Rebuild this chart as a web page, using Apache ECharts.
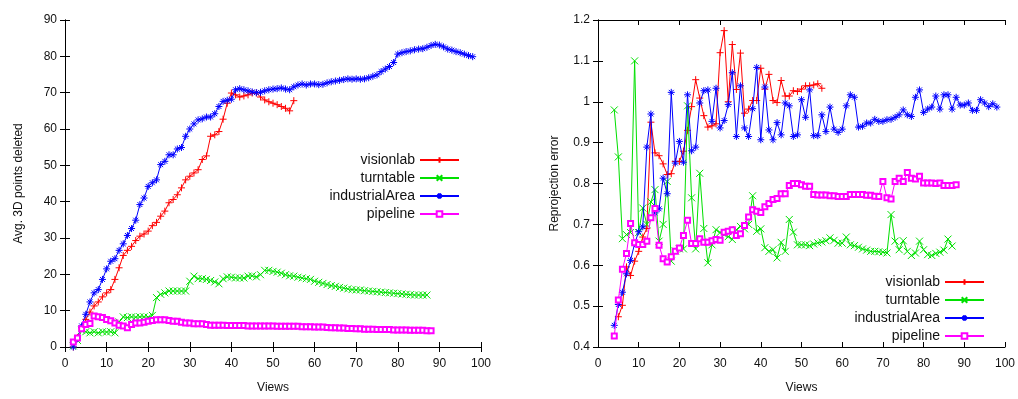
<!DOCTYPE html>
<html>
<head>
<meta charset="utf-8">
<script src="https://cdn.jsdelivr.net/npm/echarts@6/dist/echarts.min.js"></script>
<style>
  html, body { margin: 0; padding: 0; background: #fff; }
  #main { width: 1018px; height: 399px; }
</style>
</head>
<body>
<div id="main"></div>
<script>
// series names
const names = ['visionlab', 'turntable', 'industrialArea', 'pipeline'];

// left panel: avg. 3D points deleted, one value per view
const delVisionStart = 2;
const delVision = [0, 2.6, 5.3, 7.6, 9.6, 11.3, 12.4, 13.8, 14.9, 15.8, 18.6, 21.8, 25.2, 26.6, 27.7, 29.3, 30.5, 31.1, 31.9, 33.4,
  34.3, 36, 37.4, 39.7, 40.6, 41.9, 43.8, 46, 47, 47.9, 48.8, 51.6, 52.6, 58, 58.4, 59.3, 62.7, 67.1, 69.9, 69.4,
  68.8, 69.1, 69.4, 69.9, 69.9, 68.8, 68, 67.5, 67.1, 66.7, 66.2, 65.7, 65, 67.8];
const delTurnStart = 2;
const delTurn = [0.3, 1.8, 4.6, 4.2, 3.9, 4.2, 3.9, 4.2, 4.1, 4.2, 3.9, 6.9, 8.3, 8.1, 8.3, 8.2, 8.3, 8.3, 8.2, 8.7,
  13.6, 14.5, 14.9, 15.4, 15.4, 15.4, 15.4, 15.4, 18.1, 19.5, 18.8, 18.8, 18.6, 18.3, 17.9, 17.4, 18.8, 19.3, 19.2, 19,
  19, 19, 19.5, 19.6, 19.3, 19.9, 21.1, 21.1, 20.8, 20.6, 20.3, 19.9, 19.6, 19.5, 19.2, 19, 18.8, 18.6, 18.1, 17.8,
  17.5, 17.2, 16.9, 16.7, 16.4, 16.2, 16, 15.8, 15.7, 15.7, 15.5, 15.4, 15.3, 15.2, 15.1, 15, 14.9, 14.8, 14.7, 14.6,
  14.5, 14.4, 14.3, 14.3, 14.3, 14.3];
const delIndStart = 2;
const delInd = [0, 2.3, 5.8, 9, 12.4, 14.9, 15.8, 18.6, 21.5, 23.6, 24.3, 26.6, 28.4, 30.7, 32.6, 34.9, 39.2, 41, 44.2, 45.2,
  46, 50.2, 51.1, 52.9, 52.9, 54.5, 54.9, 58, 60, 61.4, 62.5, 62.8, 63.3, 63.3, 64.2, 66.2, 67.6, 67.9, 68.2, 70.8,
  71.1, 70.8, 70.5, 70.2, 70, 70.1, 70.5, 70.8, 71, 71.1, 71.3, 71, 70.8, 71.6, 72.1, 72.4, 72.1, 72.4, 72.4, 72.2,
  72.3, 72.7, 73, 73.2, 73.4, 73.6, 73.8, 73.7, 73.8, 73.7, 73.8, 74.1, 74.5, 74.9, 75.8, 76.5, 77.2, 78.3, 80.6, 81,
  81.3, 81.5, 81.8, 82, 82.1, 82.5, 83, 83.3, 83.1, 82.6, 82, 81.7, 81.3, 81, 80.6, 80.2, 79.9];
const delPipeStart = 2;
const delPipe = [1.4, 2.5, 5, 6.2, 6.5, 8.5, 8.3, 8.1, 7.6, 7.2, 6.6, 6, 5.8, 5.3, 6.2, 6.6, 6.6, 6.8, 7.1, 7.3,
  7.5, 7.5, 7.5, 7.3, 7.1, 7.1, 6.8, 6.6, 6.6, 6.4, 6.4, 6.4, 6.2, 6, 6, 6, 6, 5.9, 5.9, 5.9,
  5.9, 5.9, 5.8, 5.8, 5.8, 5.8, 5.8, 5.8, 5.8, 5.7, 5.7, 5.7, 5.7, 5.7, 5.7, 5.6, 5.6, 5.6, 5.5, 5.5,
  5.5, 5.4, 5.3, 5.3, 5.2, 5.2, 5.1, 5.1, 5, 5, 4.9, 4.9, 4.9, 4.8, 4.8, 4.8, 4.8, 4.7, 4.7, 4.7,
  4.7, 4.6, 4.6, 4.6, 4.6, 4.5, 4.5];

// right panel: reprojection error, one value per view
const errVisionStart = 5;
const errVision = [0.474, 0.502, 0.596, 0.575, 0.61, 0.634, 0.669, 0.69, 0.95, 0.875, 0.868, 0.848, 0.822, 0.824, 0.854, 0.854,
  0.879, 0.93, 0.988, 1.054, 1.009, 0.966, 0.938, 0.941, 0.946, 1.12, 1.174, 1.0, 1.14, 1.03, 1.119, 0.972, 0.982, 1.003,
  1.003, 1.082, 1.031, 1.067, 1.003, 0.998, 1.052, 1.014, 1.014, 1.027, 1.025, 1.031, 1.039, 1.039, 1.041, 1.044, 1.033];
const errTurnStart = 4;
const errTurn = [0.98, 0.865, 0.665, 0.675, 0.68, 1.10, 0.68, 0.74, 0.70, 0.755, 0.785, 0.659, 0.70, 0.805, 0.61, 0.635,
  0.64, 0.64, 0.99, 0.765, 0.64, 0.825, 0.69, 0.606, 0.65, 0.687, 0.68, 0.675, 0.67, 0.663, 0.687, 0.695, 0.689, 0.70,
  0.77, 0.683, 0.689, 0.643, 0.634, 0.638, 0.618, 0.656, 0.634, 0.712, 0.681, 0.65, 0.65, 0.65, 0.648, 0.652, 0.655, 0.657,
  0.66, 0.667, 0.661, 0.654, 0.654, 0.669, 0.65, 0.648, 0.644, 0.64, 0.637, 0.634, 0.634, 0.633, 0.632, 0.63, 0.724, 0.659,
  0.638, 0.66, 0.634, 0.624, 0.63, 0.659, 0.638, 0.626, 0.624, 0.629, 0.632, 0.637, 0.664, 0.647];
const errIndStart = 4;
const errInd = [0.453, 0.504, 0.534, 0.579, 0.612, 0.653, 0.682, 0.694, 0.889, 0.97, 0.728, 0.738, 0.813, 0.775, 1.023, 0.85,
  0.903, 0.852, 1.017, 0.88, 0.889, 0.997, 1.027, 1.029, 0.952, 1.033, 0.936, 0.954, 0.993, 1.071, 0.915, 1.039, 0.936, 0.915,
  0.983, 1.084, 0.907, 1.036, 0.931, 0.907, 0.949, 0.919, 0.997, 0.99, 0.915, 0.919, 1.005, 0.962, 1.029, 0.917, 0.917, 0.968,
  0.927, 0.987, 0.933, 0.925, 0.933, 0.99, 1.017, 1.011, 0.938, 0.94, 0.948, 0.948, 0.957, 0.952, 0.952, 0.956, 0.957, 0.962,
  0.968, 0.98, 0.968, 0.964, 1.011, 1.029, 0.974, 0.982, 0.987, 1.014, 0.982, 1.017, 1.017, 0.982, 1.011, 0.992, 0.992, 0.997,
  0.979, 0.979, 1.005, 0.997, 0.988, 0.995, 0.987];
const errPipeStart = 4;
const errPipe = [0.427, 0.515, 0.59, 0.629, 0.702, 0.655, 0.651, 0.651, 0.659, 0.716, 0.739, 0.649, 0.616, 0.608, 0.621, 0.634,
  0.642, 0.673, 0.71, 0.653, 0.653, 0.665, 0.656, 0.656, 0.66, 0.663, 0.661, 0.681, 0.683, 0.687, 0.673, 0.677, 0.697, 0.718,
  0.736, 0.732, 0.729, 0.743, 0.751, 0.761, 0.763, 0.775, 0.775, 0.795, 0.8, 0.8, 0.797, 0.793, 0.793, 0.773, 0.772, 0.772,
  0.772, 0.77, 0.77, 0.768, 0.768, 0.768, 0.773, 0.773, 0.773, 0.773, 0.771, 0.771, 0.769, 0.768, 0.805, 0.765, 0.762, 0.805,
  0.813, 0.805, 0.827, 0.813, 0.811, 0.818, 0.801, 0.801, 0.801, 0.8, 0.801, 0.795, 0.795, 0.795, 0.797];

const colors = ['#ff0000', '#00e000', '#0000ff', '#ff00ff'];
const symbols = [
  'path://M0,5L10,5M5,0L5,10',
  'path://M0,0L10,10M10,0L0,10',
  'path://M0,5L10,5M5,0L5,10M1.5,1.5L8.5,8.5M8.5,1.5L1.5,8.5',
  'emptyRect'
];
const font = 'Liberation Sans, Arial, sans-serif';

const pairs = (start, vals) => vals.map((v, i) => [start + i, v]);

const chart = echarts.init(document.getElementById('main'));

function mkSeries(idx, gridIdx, start, vals) {
  return {
    name: names[idx],
    type: 'line',
    xAxisIndex: gridIdx * 2,
    yAxisIndex: gridIdx * 2,
    data: pairs(start, vals),
    symbol: symbols[idx],
    symbolSize: idx === 3 ? 5 : 7,
    showAllSymbol: true,
    lineStyle: { color: colors[idx], width: 1 },
    itemStyle: { color: colors[idx], borderColor: colors[idx], borderWidth: 1 },
    emphasis: { disabled: true },
    z: 2 + idx
  };
}

function xAxes(gridIdx) {
  const base = {
    gridIndex: gridIdx, type: 'value', min: 0, max: 100, interval: 10,
    axisLine: { lineStyle: { color: '#000', width: 1 } },
    axisTick: { inside: true, length: 5, lineStyle: { color: '#000' } },
    splitLine: { show: false }
  };
  return [
    Object.assign({}, base, {
      position: 'bottom',
      axisLabel: { color: '#111', fontSize: 12, fontFamily: font, margin: 11 },
      name: 'Views', nameLocation: 'middle', nameGap: 35,
      nameTextStyle: { color: '#111', fontSize: 12, fontFamily: font }
    }),
    Object.assign({}, base, { position: 'top', axisLabel: { show: false } })
  ];
}

function yAxes(gridIdx, min, max, interval, title, gap) {
  const base = {
    gridIndex: gridIdx, type: 'value', min: min, max: max, interval: interval,
    axisLine: { show: true, lineStyle: { color: '#000', width: 1 } },
    axisTick: { show: true, inside: true, length: 5, lineStyle: { color: '#000' } },
    splitLine: { show: false }
  };
  return [
    Object.assign({}, base, {
      position: 'left',
      axisLabel: { color: '#111', fontSize: 12, fontFamily: font, margin: 8 },
      name: title, nameLocation: 'middle', nameGap: gap,
      nameTextStyle: { color: '#111', fontSize: 12, fontFamily: font }
    }),
    Object.assign({}, base, { position: 'right', axisLabel: { show: false } })
  ];
}

const legendBase = {
  orient: 'vertical', align: 'right', itemWidth: 39, itemHeight: 7, itemGap: 4,
  data: names, selectedMode: false,
  textStyle: { color: '#111', fontSize: 14, fontFamily: font }
};

const option = {
  backgroundColor: '#fff',
  animation: false,
  grid: [
    { left: 65, top: 20, width: 416, height: 328 },
    { left: 598, top: 20, width: 407, height: 328 }
  ],
  legend: [
    Object.assign({}, legendBase, { right: 553, top: 148 }),
    Object.assign({}, legendBase, { right: 28, top: 270 })
  ],
  xAxis: xAxes(0).concat(xAxes(1)),
  yAxis: yAxes(0, 0, 90, 10, 'Avg. 3D points deleted', 40).concat(yAxes(1, 0.4, 1.2, 0.1, 'Reprojection error', 37)),
  series: [
    mkSeries(0, 0, delVisionStart, delVision),
    mkSeries(1, 0, delTurnStart, delTurn),
    mkSeries(2, 0, delIndStart, delInd),
    mkSeries(3, 0, delPipeStart, delPipe),
    mkSeries(0, 1, errVisionStart, errVision),
    mkSeries(1, 1, errTurnStart, errTurn),
    mkSeries(2, 1, errIndStart, errInd),
    mkSeries(3, 1, errPipeStart, errPipe)
  ]
};

chart.setOption(option);
</script>
</body>
</html>
